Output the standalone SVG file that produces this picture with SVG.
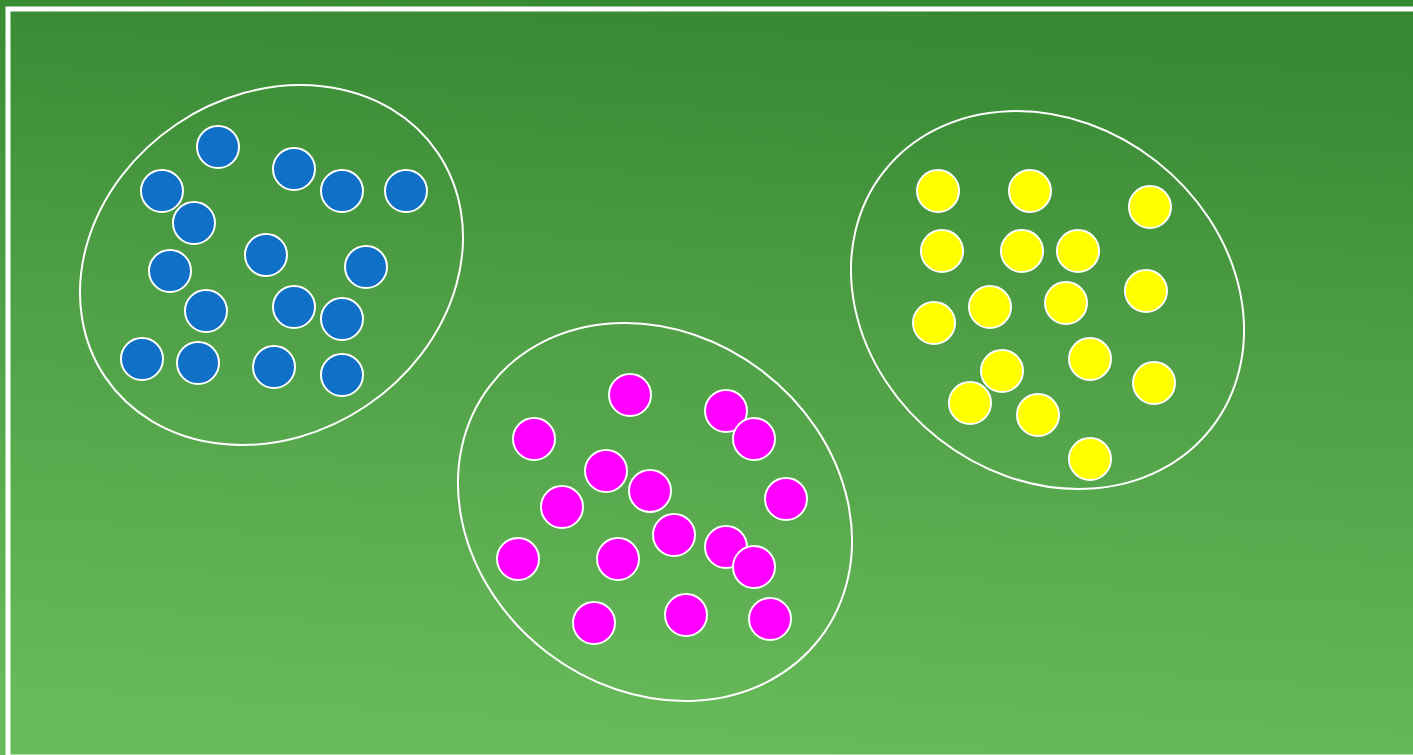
<svg xmlns="http://www.w3.org/2000/svg" width="1413" height="755" viewBox="0 0 1413 755">
<defs>
<linearGradient id="bg" x1="0.56" y1="0" x2="0.44" y2="1">
<stop offset="0" stop-color="#368831"/>
<stop offset="0.45" stop-color="#4fa046"/>
<stop offset="1" stop-color="#68bb5a"/>
</linearGradient>
<style>
.hull{fill:none;stroke:#ffffff;stroke-width:2}
.dot{stroke:#ffffff;stroke-width:2}
.blue .dot{fill:#1070c8}
.magenta .dot{fill:#ff00ff}
.yellow .dot{fill:#ffff00}
</style>
</defs>
<rect x="0" y="0" width="1413" height="755" fill="url(#bg)"/>
<rect x="8" y="9" width="1412" height="748" fill="none" stroke="#ffffff" stroke-width="5"/>

<g id="cluster-blue" class="blue">
<ellipse class="hull" cx="271.5" cy="265" rx="200.6" ry="169.8" transform="rotate(-34 271.5 265)"/>
<circle id="b1" class="dot" cx="218" cy="147" r="21"/>
<circle id="b2" class="dot" cx="294" cy="169" r="21"/>
<circle id="b3" class="dot" cx="342" cy="191" r="21"/>
<circle id="b4" class="dot" cx="406" cy="191" r="21"/>
<circle id="b5" class="dot" cx="162" cy="191" r="21"/>
<circle id="b6" class="dot" cx="194" cy="223" r="21"/>
<circle id="b7" class="dot" cx="170" cy="271" r="21"/>
<circle id="b8" class="dot" cx="266" cy="255" r="21"/>
<circle id="b9" class="dot" cx="366" cy="267" r="21"/>
<circle id="b10" class="dot" cx="206" cy="311" r="21"/>
<circle id="b11" class="dot" cx="294" cy="307" r="21"/>
<circle id="b12" class="dot" cx="342" cy="319" r="21"/>
<circle id="b13" class="dot" cx="142" cy="359" r="21"/>
<circle id="b14" class="dot" cx="198" cy="363" r="21"/>
<circle id="b15" class="dot" cx="274" cy="367" r="21"/>
<circle id="b16" class="dot" cx="342" cy="375" r="21"/>
</g>

<g id="cluster-magenta" class="magenta">
<ellipse class="hull" cx="655" cy="512" rx="207.8" ry="177.1" transform="rotate(37.4 655 512)"/>
<circle id="m1" class="dot" cx="630" cy="395" r="21"/>
<circle id="m2" class="dot" cx="726" cy="411" r="21"/>
<circle id="m3" class="dot" cx="754" cy="439" r="21"/>
<circle id="m4" class="dot" cx="534" cy="439" r="21"/>
<circle id="m5" class="dot" cx="606" cy="471" r="21"/>
<circle id="m6" class="dot" cx="650" cy="491" r="21"/>
<circle id="m7" class="dot" cx="562" cy="507" r="21"/>
<circle id="m8" class="dot" cx="786" cy="499" r="21"/>
<circle id="m9" class="dot" cx="674" cy="535" r="21"/>
<circle id="m10" class="dot" cx="726" cy="547" r="21"/>
<circle id="m11" class="dot" cx="754" cy="567" r="21"/>
<circle id="m12" class="dot" cx="518" cy="559" r="21"/>
<circle id="m13" class="dot" cx="618" cy="559" r="21"/>
<circle id="m14" class="dot" cx="594" cy="623" r="21"/>
<circle id="m15" class="dot" cx="686" cy="615" r="21"/>
<circle id="m16" class="dot" cx="770" cy="619" r="21"/>
</g>

<g id="cluster-yellow" class="yellow">
<ellipse class="hull" cx="1047.5" cy="300" rx="208" ry="176.3" transform="rotate(38.1 1047.5 300)"/>
<circle id="y1" class="dot" cx="938" cy="191" r="21"/>
<circle id="y2" class="dot" cx="1030" cy="191" r="21"/>
<circle id="y3" class="dot" cx="1150" cy="207" r="21"/>
<circle id="y4" class="dot" cx="942" cy="251" r="21"/>
<circle id="y5" class="dot" cx="1022" cy="251" r="21"/>
<circle id="y6" class="dot" cx="1078" cy="251" r="21"/>
<circle id="y7" class="dot" cx="1146" cy="291" r="21"/>
<circle id="y8" class="dot" cx="990" cy="307" r="21"/>
<circle id="y9" class="dot" cx="1066" cy="303" r="21"/>
<circle id="y10" class="dot" cx="934" cy="323" r="21"/>
<circle id="y11" class="dot" cx="1002" cy="371" r="21"/>
<circle id="y12" class="dot" cx="1090" cy="359" r="21"/>
<circle id="y13" class="dot" cx="1154" cy="383" r="21"/>
<circle id="y14" class="dot" cx="970" cy="403" r="21"/>
<circle id="y15" class="dot" cx="1038" cy="415" r="21"/>
<circle id="y16" class="dot" cx="1090" cy="459" r="21"/>
</g>
</svg>
